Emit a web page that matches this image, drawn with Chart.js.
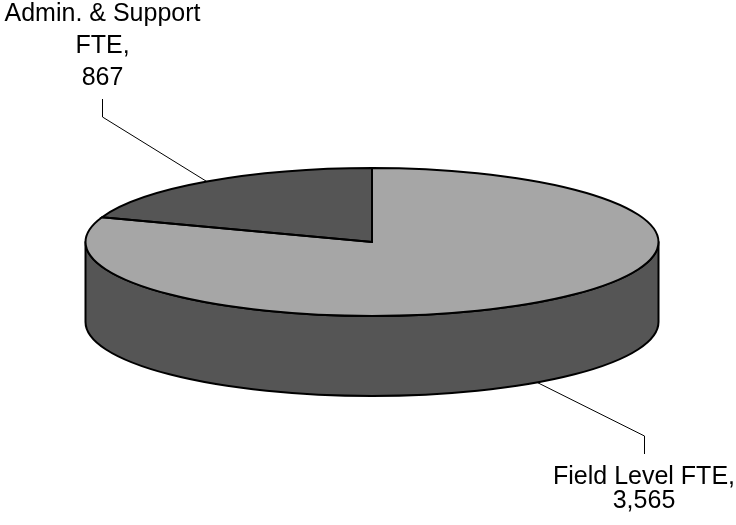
<!DOCTYPE html>
<html><head><meta charset="utf-8">
<script src="https://cdn.jsdelivr.net/npm/chart.js@4"></script>
<style>html,body{margin:0;padding:0;background:#fff}</style>
</head><body>
<canvas id="c" width="736" height="525"></canvas>
<script>
// ---- data ----
const categories = ['Field Level FTE', 'Admin. & Support FTE'];
const values = [3565, 867];
const labelLines = [['Field Level FTE,', '3,565'], ['Admin. & Support', 'FTE,', '867']];

// ---- style ----
const TOP_COLORS = ['#A6A6A6', '#555555'];
const SIDE_COLORS = ['#555555', '#3c3c3c'];
const RADIUS = 286.5;
const SQUASH = 74 / 286.5;
const DEPTH = 80;
const LABEL_LAYOUT = [
  {elbow: [644, 436], end: [644, 454], textX: 644, baselines: [484, 508]},
  {elbow: [102, 117], end: [102, 99], textX: 102.5, baselines: [21, 53, 85]}
];

function visibleRanges(s, e) {
  const out = [];
  for (const k of [-1, 0, 1]) {
    const lo = Math.max(s, k * 2 * Math.PI), hi = Math.min(e, k * 2 * Math.PI + Math.PI);
    if (hi > lo) out.push([lo, hi]);
  }
  return out;
}

const pie3d = {
  id: 'pie3d',
  beforeDatasetsDraw(chart) {
    const ctx = chart.ctx;
    const arcs = chart.getDatasetMeta(0).data;
    const cx = arcs[0].x, cy = arcs[0].y, rx = arcs[0].outerRadius, ry = rx * SQUASH;
    ctx.save();
    ctx.lineWidth = 2; ctx.strokeStyle = '#000'; ctx.lineJoin = 'round';
    arcs.forEach((a, i) => {
      visibleRanges(a.startAngle, a.endAngle).forEach(([a0, a1]) => {
        ctx.beginPath();
        ctx.ellipse(cx, cy, rx, ry, 0, a0, a1, false);
        ctx.lineTo(cx + rx * Math.cos(a1), cy + ry * Math.sin(a1) + DEPTH);
        ctx.ellipse(cx, cy + DEPTH, rx, ry, 0, a1, a0, true);
        ctx.closePath();
        ctx.fillStyle = SIDE_COLORS[i];
        ctx.fill();
        ctx.stroke();
      });
    });
    ctx.restore();
    ctx.save();
    ctx.translate(cx, cy); ctx.scale(1, SQUASH); ctx.translate(-cx, -cy);
  },
  afterDatasetsDraw(chart) {
    const ctx = chart.ctx;
    ctx.restore();
    const arcs = chart.getDatasetMeta(0).data;
    const cx = arcs[0].x, cy = arcs[0].y, rx = arcs[0].outerRadius, ry = rx * SQUASH;
    ctx.save();
    ctx.lineWidth = 2; ctx.strokeStyle = '#000'; ctx.lineJoin = 'miter';
    arcs.forEach((a) => {
      ctx.beginPath();
      ctx.moveTo(cx, cy);
      ctx.ellipse(cx, cy, rx, ry, 0, a.startAngle, a.endAngle, false);
      ctx.closePath();
      ctx.stroke();
    });
    ctx.restore();
  },
  afterDraw(chart) {
    const ctx = chart.ctx;
    const arcs = chart.getDatasetMeta(0).data;
    const cx = arcs[0].x, cy = arcs[0].y, rx = arcs[0].outerRadius, ry = rx * SQUASH;
    ctx.save();
    arcs.forEach((a, i) => {
      const mid = (a.startAngle + a.endAngle) / 2;
      const s = Math.sin(mid);
      const sx = cx + rx * Math.cos(mid);
      const sy = cy + ry * s + (s > 0 ? DEPTH : 0);
      const L = LABEL_LAYOUT[i];
      ctx.beginPath();
      ctx.moveTo(sx, sy);
      ctx.lineTo(L.elbow[0] + 0.5, L.elbow[1]);
      ctx.lineTo(L.end[0] + 0.5, L.end[1]);
      ctx.lineWidth = 1; ctx.strokeStyle = '#000';
      ctx.stroke();
      ctx.fillStyle = '#000';
      ctx.font = '25px "Liberation Sans", Arial, sans-serif';
      ctx.textAlign = 'center';
      ctx.textBaseline = 'alphabetic';
      labelLines[i].forEach((t, j) => ctx.fillText(t, L.textX, L.baselines[j]));
    });
    ctx.restore();
  }
};

new Chart(document.getElementById('c'), {
  type: 'pie',
  data: {
    labels: categories,
    datasets: [{data: values, backgroundColor: TOP_COLORS, borderWidth: 0, radius: RADIUS}]
  },
  options: {
    responsive: false,
    animation: false,
    events: [],
    radius: RADIUS,
    layout: {padding: {left: 8, right: 0, top: 0, bottom: 41}},
    plugins: {legend: {display: false}, tooltip: {enabled: false}}
  },
  plugins: [pie3d]
});
</script>
</body></html>
